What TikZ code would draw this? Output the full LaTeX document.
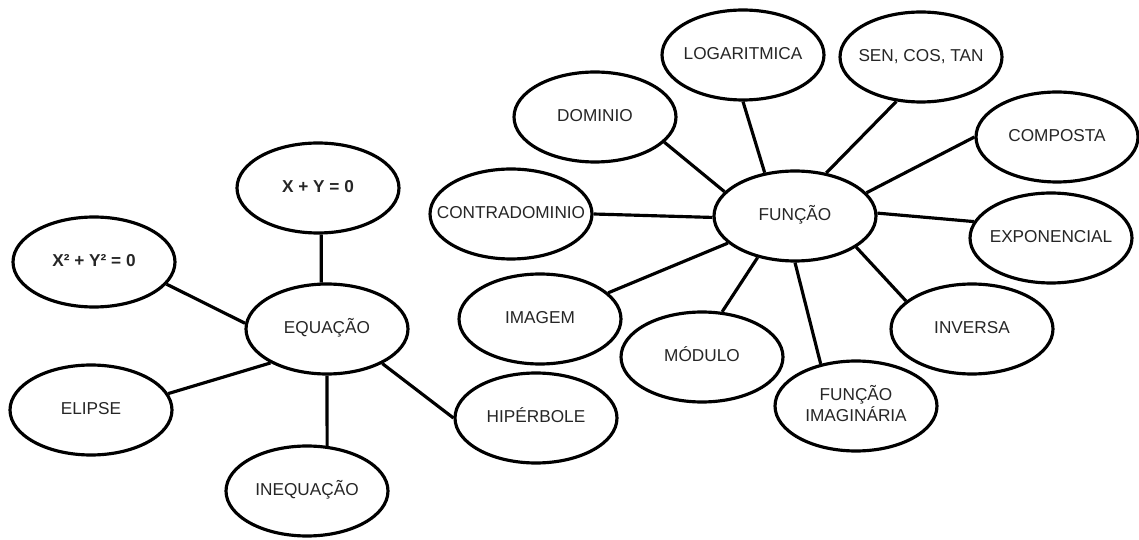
\documentclass[tikz,border=0pt]{standalone}
\usepackage{fontspec}
\setmainfont{Liberation Sans}
\usetikzlibrary{shapes.geometric}
% centred label of zero width, so the ellipse keeps its fixed size
\newcommand{\lbl}[1]{\makebox[0pt]{\begin{tabular}{@{}c@{}}#1\end{tabular}}}
\begin{document}
\begin{tikzpicture}[x=0.02cm,y=-0.02cm,
  topic/.style={ellipse,draw=black,line width=1.8pt,fill=white,inner sep=0pt,
    minimum width=3.24cm,minimum height=1.8cm,
    font=\fontsize{9.8}{11.4}\selectfont,text=black!85},
  bold topic/.style={topic,font=\fontsize{9.8}{11.4}\selectfont\bfseries},
  link/.style={line width=1.8pt,draw=black}]
\fill[white] (0,0) rectangle (1139,540);
\useasboundingbox (0,0) rectangle (1139,540);

% EQUAÇÃO cluster
\node[topic] (eq)   at (327,329) {\lbl{EQUAÇÃO}};
\node[bold topic] (xy) at (318,188) {\lbl{X + Y = 0}};
\node[bold topic] (x2) at (94,262) {\lbl{X² + Y² = 0}};
\node[topic] (elip) at (91,410)  {\lbl{ELIPSE}};
\node[topic] (ineq) at (307,491) {\lbl{INEQUAÇÃO}};
\node[topic] (hip)  at (536,418) {\lbl{HIPÉRBOLE}};

% FUNÇÃO cluster
\node[topic] (fun)  at (795,216) {\lbl{FUNÇÃO}};
\node[topic] (dom)  at (595,117) {\lbl{DOMINIO}};
\node[topic] (cdom) at (511,214) {\lbl{CONTRADOMINIO}};
\node[topic] (img)  at (540,319) {\lbl{IMAGEM}};
\node[topic] (mod)  at (702,357) {\lbl{MÓDULO}};
\node[topic] (fim)  at (856,406) {\lbl{FUNÇÃO\\IMAGINÁRIA}};
\node[topic] (inv)  at (972,329) {\lbl{INVERSA}};
\node[topic] (expo) at (1051,238) {\lbl{EXPONENCIAL}};
\node[topic] (comp) at (1057,137) {\lbl{COMPOSTA}};
\node[topic] (sen)  at (921,57)  {\lbl{SEN, COS, TAN}};
\node[topic] (log)  at (743,55)  {\lbl{LOGARITMICA}};

% connectors around EQUAÇÃO
\draw[link] (xy.-86) -- (eq.97);
\draw[link] (x2.-17) -- (eq.176);
\draw[link] (elip.12) -- (eq.211);
\draw[link] (eq.-90) -- (ineq.66);
\draw[link] (eq.-32) -- (hip.180);

% connectors around FUNÇÃO
\draw[link] (log.-90) -- (fun.125);
\draw[link] (sen.-119) -- (fun.54);
\draw[link] (comp.180) -- (fun.18);
\draw[link] (expo.168) -- (fun.2);
\draw[link] (cdom.0) -- (fun.181);
\draw[link] (dom.-20) -- (fun.161);
\draw[link] (img.21) -- (fun.202);
\draw[link] (mod.66) -- (fun.228);
\draw[link] (fim.130) -- (fun.-90);
\draw[link] (inv.157) -- (fun.-27);
\end{tikzpicture}
\end{document}
